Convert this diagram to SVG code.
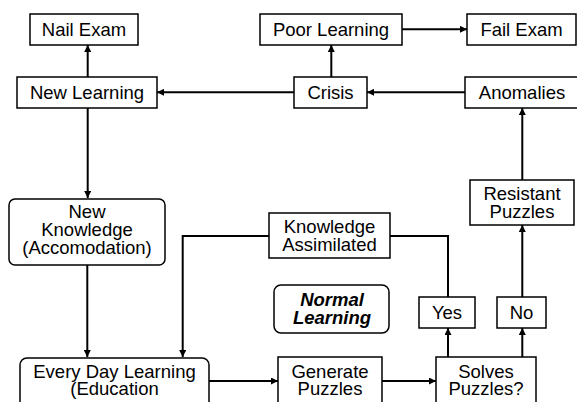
<svg xmlns="http://www.w3.org/2000/svg" width="577" height="402" viewBox="0 0 577 402">
<defs>
<marker id="ah" viewBox="0 0 10 10" refX="10" refY="5" markerWidth="9" markerHeight="7" markerUnits="userSpaceOnUse" orient="auto">
<path d="M0,0 L10,5 L0,10 z" fill="#000"/>
</marker>
<style>
.b{fill:#fff;stroke:#000;stroke-width:1.5}
.t{font-family:"Liberation Sans",Arial,sans-serif;font-size:18.5px;text-anchor:middle;fill:#000}
.bi{font-weight:bold;font-style:italic}
.c{fill:none;stroke:#000;stroke-width:2}
.a{marker-end:url(#ah)}
</style>
</defs>
<rect width="577" height="402" fill="#fff"/>
<g id="connectors">
<path class="c a" d="M87.7,77 V45"/>
<path class="c a" d="M294,92.3 H157"/>
<path class="c a" d="M87.7,108 V198"/>
<path class="c a" d="M331.3,77 V45"/>
<path class="c a" d="M402,29.3 H467"/>
<path class="c a" d="M465,92.3 H367"/>
<path class="c a" d="M522.3,180 V108"/>
<path class="c a" d="M87.3,265 V357"/>
<path class="c a" d="M269,236 H182.7 V357"/>
<path class="c" d="M390,236 H448 V297"/>
<path class="c a" d="M209,381 H278"/>
<path class="c a" d="M382,381 H436"/>
<path class="c a" d="M448,357 V328"/>
<path class="c a" d="M522.3,357 V328"/>
<path class="c a" d="M522.3,297 V225"/>
</g>
<g id="nail-exam"><rect class="b" x="30" y="14" width="108" height="31"/><text class="t" x="84" y="36">Nail Exam</text></g>
<g id="poor-learning"><rect class="b" x="260" y="14" width="142" height="31"/><text class="t" x="331" y="36">Poor Learning</text></g>
<g id="fail-exam"><rect class="b" x="467" y="14" width="109" height="31"/><text class="t" x="521.5" y="36">Fail Exam</text></g>
<g id="new-learning"><rect class="b" x="17" y="77" width="140" height="31"/><text class="t" x="87" y="99">New Learning</text></g>
<g id="crisis"><rect class="b" x="294" y="77" width="73" height="31"/><text class="t" x="330.5" y="99">Crisis</text></g>
<g id="anomalies"><rect class="b" x="465" y="77" width="120" height="31"/><text class="t" x="522" y="99">Anomalies</text></g>
<g id="resistant-puzzles"><rect class="b" x="470" y="180" width="104" height="45"/><text class="t" x="522" y="199.5">Resistant</text><text class="t" x="522" y="217.5">Puzzles</text></g>
<g id="new-knowledge"><rect class="b" x="9" y="199" width="156" height="66" rx="6"/><text class="t" x="87" y="218">New</text><text class="t" x="87" y="236">Knowledge</text><text class="t" x="87" y="254">(Accomodation)</text></g>
<g id="knowledge-assimilated"><rect class="b" x="269" y="213" width="121" height="45"/><text class="t" x="329.5" y="232.5">Knowledge</text><text class="t" x="329.5" y="250.5">Assimilated</text></g>
<g id="normal-learning"><rect class="b" x="274" y="285" width="115" height="48" rx="7"/><text class="t bi" x="332" y="306">Normal</text><text class="t bi" x="332" y="324">Learning</text></g>
<g id="yes"><rect class="b" x="419" y="297" width="56" height="31"/><text class="t" x="447" y="319">Yes</text></g>
<g id="no"><rect class="b" x="497" y="297" width="49" height="31"/><text class="t" x="521.5" y="319">No</text></g>
<g id="every-day-learning"><rect class="b" x="20" y="358" width="189" height="60" rx="7"/><text class="t" x="114.5" y="377.5">Every Day Learning</text><text class="t" x="114.5" y="394.5">(Education</text></g>
<g id="generate-puzzles"><rect class="b" x="278" y="357" width="104" height="60"/><text class="t" x="330" y="377.5">Generate</text><text class="t" x="330" y="394.5">Puzzles</text></g>
<g id="solves-puzzles"><rect class="b" x="436" y="357" width="100" height="60"/><text class="t" x="486" y="377.5">Solves</text><text class="t" x="486" y="394.5">Puzzles?</text></g>
</svg>
